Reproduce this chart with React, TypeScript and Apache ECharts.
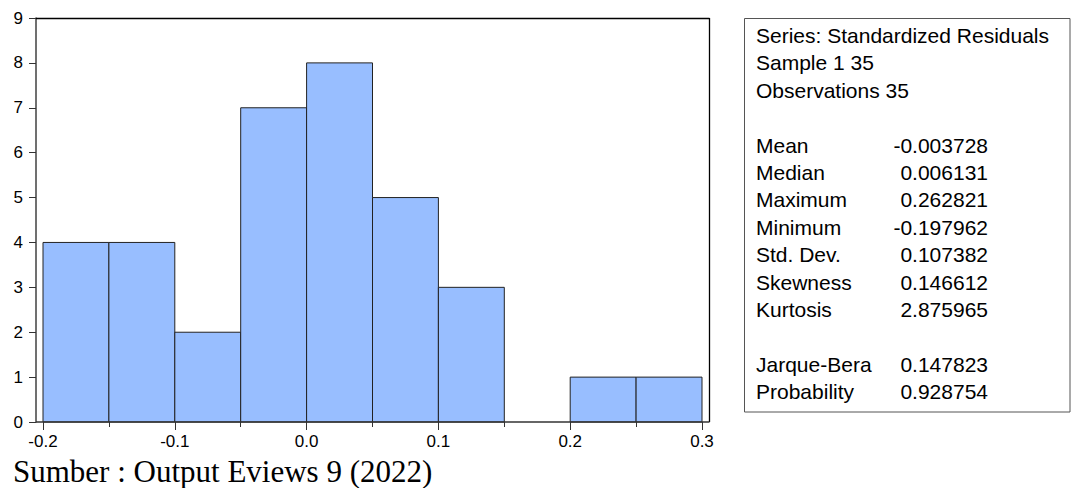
import React, { useEffect, useRef } from "react";
import * as echarts from "echarts";

// Histogram bins (lower and upper edges) and counts
const binLow = [-0.2, -0.15, -0.1, -0.05, 0.0, 0.05, 0.1, 0.15, 0.2, 0.25];
const binHigh = [-0.15, -0.1, -0.05, 0.0, 0.05, 0.1, 0.15, 0.2, 0.25, 0.3];
const counts = [4, 4, 2, 7, 8, 5, 3, 0, 1, 1];

// Statistics panel
const headerLines = ["Series: Standardized Residuals", "Sample 1 35", "Observations 35"];
const statLabels = ["Mean", "Median", "Maximum", "Minimum", "Std. Dev.", "Skewness", "Kurtosis"];
const statValues = ["-0.003728", "0.006131", "0.262821", "-0.197962", "0.107382", "0.146612", "2.875965"];
const testLabels = ["Jarque-Bera", "Probability"];
const testValues = ["0.147823", "0.928754"];

const caption = "Sumber : Output Eviews 9 (2022)";

const SANS = '"Liberation Sans", Arial, Helvetica, sans-serif';
const SERIF = '"Liberation Serif", "Times New Roman", serif';

export default function App() {
  const ref = useRef<HTMLDivElement>(null);

  useEffect(() => {
    if (!ref.current) return;
    const chart = echarts.init(ref.current, undefined, { renderer: "svg" });

    const data = binLow.map((lo, i) => [lo, binHigh[i], counts[i]]);

    // stats text
    const lineStart = 35.5;
    const lineStep = 27.4;
    const labelX = 756;
    const valueX = 988;
    const texts: any[] = [];
    const addLine = (idx: number, label: string, value?: string) => {
      const y = lineStart + idx * lineStep;
      texts.push({
        type: "text",
        x: labelX,
        y,
        style: { text: label, fill: "#000", fontSize: 21, fontFamily: SANS, align: "left", verticalAlign: "middle" },
      });
      if (value !== undefined) {
        texts.push({
          type: "text",
          x: valueX,
          y,
          style: { text: value, fill: "#000", fontSize: 21, fontFamily: SANS, align: "right", verticalAlign: "middle" },
        });
      }
    };
    headerLines.forEach((t, i) => addLine(i, t));
    statLabels.forEach((t, i) => addLine(4 + i, t, statValues[i]));
    testLabels.forEach((t, i) => addLine(12 + i, t, testValues[i]));

    chart.setOption({
      animation: false,
      backgroundColor: "#ffffff",
      grid: { left: 43, right: 369, top: 18, bottom: 66, containLabel: false },
      xAxis: {
        type: "value",
        min: -0.2,
        max: 0.3,
        interval: 0.1,
        axisLine: { show: false, onZero: false },
        axisTick: { show: true, length: 8, lineStyle: { color: "#333", width: 1 } },
        minorTick: { show: true, splitNumber: 2, length: 5, lineStyle: { color: "#333", width: 1 } },
        splitLine: { show: false },
        minorSplitLine: { show: false },
        axisLabel: {
          color: "#000",
          fontSize: 17,
          fontFamily: SANS,
          margin: 11,
          lineHeight: 17,
          formatter: (v: number) => v.toFixed(1),
        },
      },
      yAxis: {
        type: "value",
        min: 0,
        max: 9,
        interval: 1,
        offset: 7,
        axisLine: { show: true, onZero: false, lineStyle: { color: "#404040", width: 1.5 } },
        axisTick: { show: true, length: 7, lineStyle: { color: "#333", width: 1 } },
        splitLine: { show: false },
        axisLabel: { color: "#000", fontSize: 17, fontFamily: SANS, margin: 13 },
      },
      series: [
        {
          type: "custom",
          data,
          renderItem: (params: any, api: any) => {
            const lo = api.value(0);
            const hi = api.value(1);
            const c = api.value(2);
            if (!c) return null;
            const p0 = api.coord([lo, 0]);
            const p1 = api.coord([hi, c]);
            return {
              type: "rect",
              shape: { x: p0[0], y: p1[1], width: p1[0] - p0[0], height: p0[1] - p1[1] },
              style: { fill: "#98BEFF", stroke: "#222", lineWidth: 1 },
            };
          },
          encode: { x: [0, 1], y: 2 },
          z: 2,
        },
      ],
      graphic: [
        { type: "line", shape: { x1: 36, y1: 18.5, x2: 709.5, y2: 18.5 }, style: { stroke: "#000", lineWidth: 1.3 }, z: 10 },
        { type: "line", shape: { x1: 709.5, y1: 18, x2: 709.5, y2: 422 }, style: { stroke: "#000", lineWidth: 1.3 }, z: 10 },
        { type: "line", shape: { x1: 36, y1: 422, x2: 709.5, y2: 422 }, style: { stroke: "#333", lineWidth: 1.5 }, z: 10 },
        {
          type: "rect",
          shape: { x: 744.5, y: 18.5, width: 325.5, height: 393.5 },
          style: { fill: "#fff", stroke: "#555", lineWidth: 1 },
          z: 5,
        },
        ...texts.map((t) => ({ ...t, z: 11 })),
        {
          type: "text",
          x: 13,
          y: 487,
          style: { text: caption, fill: "#000", fontSize: 31, lineHeight: 31, fontFamily: SERIF, align: "left", verticalAlign: "bottom" },
          z: 11,
        },
      ],
    });

    return () => chart.dispose();
  }, []);

  return <div ref={ref} style={{ position: "absolute", left: 0, top: 0, width: 1071, height: 488 }} />;
}
